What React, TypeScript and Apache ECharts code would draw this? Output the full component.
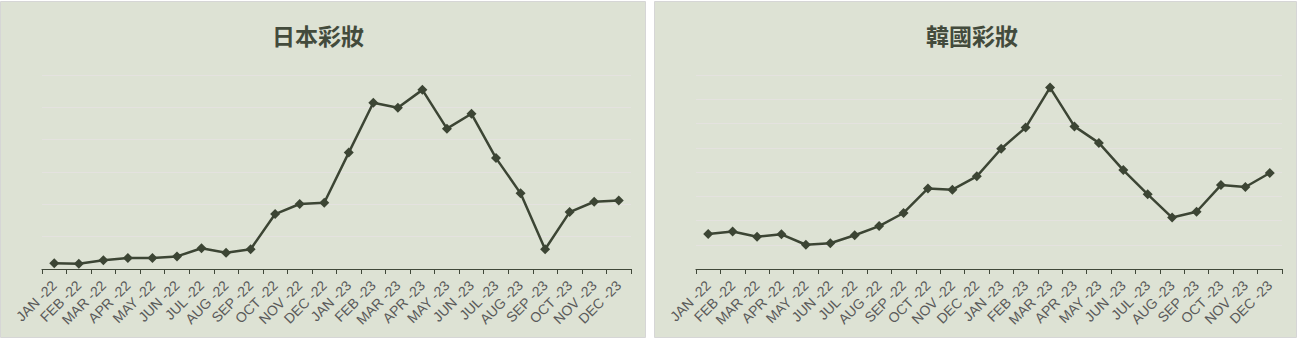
import React, { useEffect, useRef } from "react";
import * as echarts from "echarts";

const months = [
  "JAN -22", "FEB -22", "MAR -22", "APR -22", "MAY -22", "JUN -22",
  "JUL -22", "AUG -22", "SEP -22", "OCT -22", "NOV -22", "DEC -22",
  "JAN -23", "FEB -23", "MAR -23", "APR -23", "MAY -23", "JUN -23",
  "JUL -23", "AUG -23", "SEP -23", "OCT -23", "NOV -23", "DEC -23",
];

const japanTitle = "日本彩妝";
const koreaTitle = "韓國彩妝";

const japanValues = [
  0.18, 0.16, 0.27, 0.34, 0.34, 0.39, 0.64, 0.5, 0.61, 1.7, 2.01, 2.05,
  3.6, 5.14, 4.99, 5.54, 4.34, 4.8, 3.43, 2.34, 0.61, 1.76, 2.08, 2.12,
];
const koreaValues = [
  1.44, 1.55, 1.33, 1.43, 1.0, 1.06, 1.39, 1.77, 2.31, 3.32, 3.27, 3.82,
  4.96, 5.83, 7.48, 5.88, 5.2, 4.08, 3.08, 2.12, 2.36, 3.46, 3.38, 3.96,
];
const japanMax = 6;
const koreaMax = 8;

const BG = "#dde2d4";
const LINE = "#3c4534";

function buildOption(title: string, values: number[], max: number, panelW: number) {
  return {
    animation: false,
    graphic: [
      {
        type: "rect",
        shape: { x: 0.5, y: 1.5, width: panelW - 1, height: 336 },
        style: { fill: BG, stroke: "#d6d6d6", lineWidth: 1 },
        z: -10,
        silent: true,
      },
      {
        type: "text",
        x: 318,
        y: 35,
        style: {
          text: title,
          fill: "#434b3c",
          font: "bold 23px 'Noto Sans CJK TC', 'Noto Sans CJK SC', sans-serif",
          textAlign: "center",
          textVerticalAlign: "middle",
        },
      },
    ],
    grid: { left: 42, right: 18, top: 75, bottom: 71, containLabel: false },
    xAxis: {
      type: "category",
      data: months,
      boundaryGap: true,
      axisLine: { show: true, lineStyle: { color: "#404839", width: 1.2 } },
      axisTick: { show: true, length: 5, alignWithLabel: false, lineStyle: { color: "#404839" } },
      axisLabel: {
        rotate: 45,
        interval: 0,
        margin: 14,
        color: "#5a5a5a",
        fontSize: 14,
        fontFamily: "'Liberation Sans', Arial, sans-serif",
      },
    },
    yAxis: {
      type: "value",
      min: 0,
      max: max,
      interval: 1,
      axisLine: { show: false },
      axisTick: { show: false },
      axisLabel: { show: false },
      splitLine: { show: true, lineStyle: { color: "#e4e2df", width: 1 } },
    },
    series: [
      {
        type: "line",
        data: values,
        symbol: "diamond",
        symbolSize: 10,
        lineStyle: { color: LINE, width: 2.5 },
        itemStyle: { color: LINE },
      },
    ],
  };
}

function Panel({ left, width, title, values, max }: { left: number; width: number; title: string; values: number[]; max: number }) {
  const ref = useRef<HTMLDivElement>(null);
  useEffect(() => {
    if (!ref.current) return;
    const chart = echarts.init(ref.current, undefined, { renderer: "svg" });
    chart.setOption(buildOption(title, values, max, width - 3));
    return () => chart.dispose();
  }, []);
  return (
    <div
      ref={ref}
      style={{ position: "absolute", left, top: 0, width, height: 340 }}
    />
  );
}

export default function App() {
  return (
    <div style={{ position: "fixed", left: 0, top: 0, width: 1300, height: 340, background: "#ffffff" }}>
      <Panel left={0} width={649} title={japanTitle} values={japanValues} max={japanMax} />
      <Panel left={654} width={646} title={koreaTitle} values={koreaValues} max={koreaMax} />
    </div>
  );
}
